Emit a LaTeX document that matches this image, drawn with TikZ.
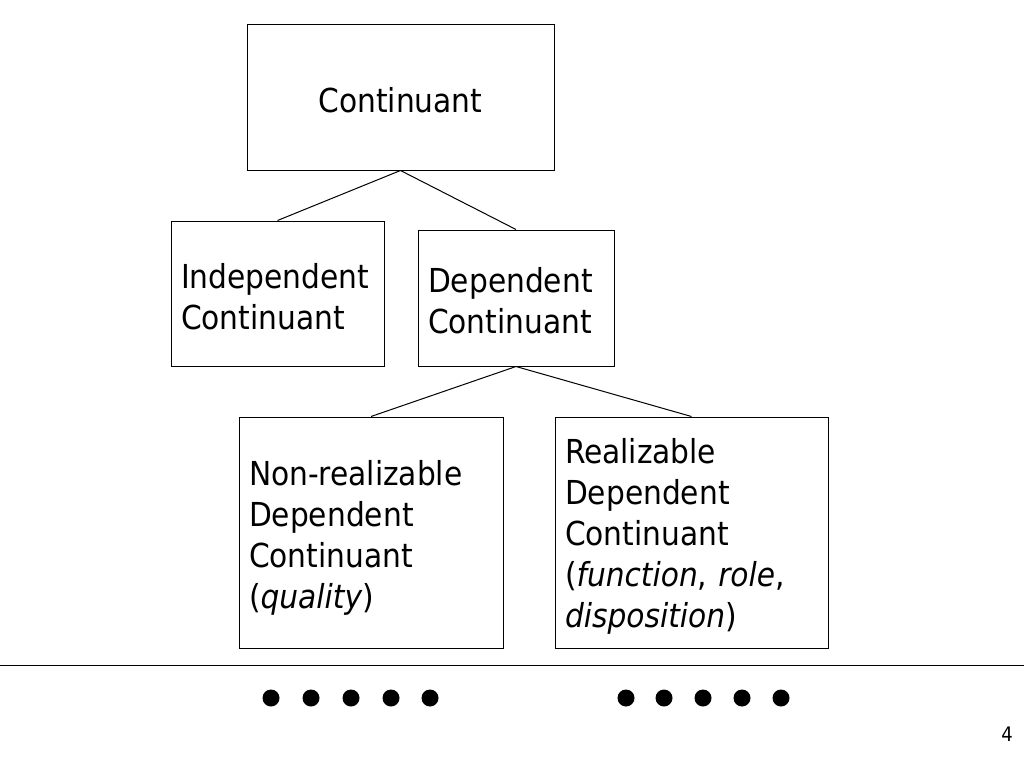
\documentclass[tikz,border=0pt]{standalone}
\usepackage{fontspec}
\setmainfont{DejaVu Sans Condensed}
\begin{document}
\begin{tikzpicture}[x=1pt,y=-1pt,
  box/.style={draw=black, line width=1pt, rectangle, inner sep=0pt},
  txt/.style={inner sep=0pt, font=\fontsize{33}{41}\selectfont, align=left},
  link/.style={draw=black, line width=1pt},
  dot/.style={circle, fill=black, inner sep=0pt, minimum size=17pt}]
\useasboundingbox (0,0) rectangle (1024,768);
\fill[white] (0,0) rectangle (1024,768);
\node[box, minimum width=307pt, minimum height=145pt] (cont) at (400.5,97.5) {};
\node[box, minimum width=213pt, minimum height=145pt] (indep) at (277.5,293.5) {};
\node[box, minimum width=196pt, minimum height=136pt] (dep) at (516,298) {};
\node[box, minimum width=264pt, minimum height=231pt] (nonreal) at (371,532.5) {};
\node[box, minimum width=273pt, minimum height=231pt] (real) at (691.5,532.5) {};
\node[txt, align=center] (tcont) at ([yshift=-3pt]cont.center) {Continuant};
\node[txt, text width=193pt] (tindep) at ([yshift=-3pt]indep.center) {Independent\\Continuant};
\node[txt, text width=176pt] (tdep) at ([yshift=-3pt]dep.center) {Dependent\\Continuant};
\node[txt, text width=244pt] (tnonreal) at ([yshift=-5pt]nonreal.center) {Non-realizable\\Dependent\\Continuant\\(\textit{quality})};
\node[txt, text width=253pt] (treal) at ([yshift=-4pt]real.center) {Realizable\\Dependent\\Continuant\\(\textit{function}, \textit{role},\\\textit{disposition})};
\draw[link] (cont.south) -- (indep.north);
\draw[link] (cont.south) -- (dep.north);
\draw[link] (dep.south) -- (nonreal.north);
\draw[link] (dep.south) -- (real.north);
\coordinate (rl) at (0,665);
\coordinate (rr) at (1024,665);
\draw[line width=1pt] (rl) -- (rr);
\foreach \i/\x in {1/271,2/311,3/351,4/391,5/430,6/626,7/664,8/703,9/742,10/781}
  \node[dot] (d\i) at (\x,698) {};
\node[font=\fontsize{20}{22}\selectfont, inner sep=0pt] (pg) at (1007,734) {4};
\end{tikzpicture}
\end{document}
